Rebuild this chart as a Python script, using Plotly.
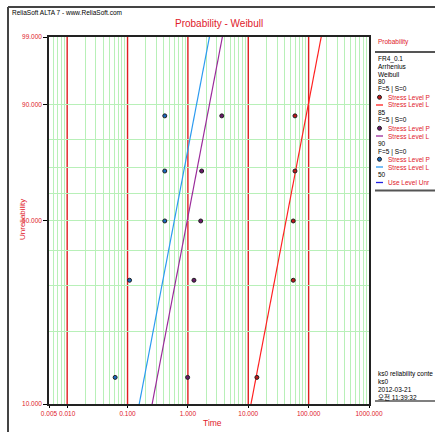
import numpy as np
import plotly.graph_objects as go

# ---------------- data ----------------
rank_pct = [12.94, 31.38, 50.0, 68.62, 87.06]          # median ranks, n=5
red_times = [13.9, 55.6, 55.6, 59.4, 59.4]              # stress level 80
purple_times = [0.99, 1.26, 1.63, 1.69, 3.64]          # stress level 85
blue_times = [0.0623, 0.108, 0.414, 0.414, 0.414]      # stress level 90

beta_common = 1.41
eta_red = 54.7
eta_purple = 1.26
eta_blue = 0.77

x_tick_vals = [0.005, 0.01, 0.1, 1, 10, 100, 1000]
x_tick_text = ["0.005", "0.010", "0.100", "1.000", "10.000", "100.000", "1000.000"]
decades = [0.01, 0.1, 1, 10, 100]
y_tick_pct = [10, 50, 90, 99]
y_tick_text = ["10.000", "50.000", "90.000", "99.000"]
y_minor_pct = [20, 30, 40, 60, 70, 80]

legend_lines = ["FR4_0.1", "Arrhenius", "Weibull"]
stress_labels = ["80", "85", "90"]
use_label = "50"
info_lines = ["ks0 reliability conte", "ks0", "2012-03-21", "오전 11:39:32"]

# ---------------- helpers ----------------
RED_TXT = "#e0202a"
C_RED = "#ff2020"
C_PUR = "#9a2a9a"
C_BLU = "#2a9af0"
C_USE = "#2020e0"
GRID_GREEN = "#b8f0b8"
DEC_RED = "#e02020"
FONT = "Liberation Sans, Noto Sans CJK KR, sans-serif"


def wtrans(p):
    p = np.asarray(p, dtype=float) / 100.0
    return np.log(-np.log(1.0 - p))


def px(x):
    return (x - 49) / 320.0


def py(y):
    return (404 - y) / 367.0


F_line = np.linspace(10, 99, 60)


def weib_t(eta, beta, pct):
    p = np.asarray(pct) / 100.0
    return eta * (-np.log(1 - p)) ** (1.0 / beta)


minor_x = []
for dec in [0.001, 0.01, 0.1, 1, 10, 100]:
    for m in range(2, 10):
        v = round(m * dec, 6)
        if 0.005 < v < 1000:
            minor_x.append(v)

fig = go.Figure()

for eta, col in [(eta_red, C_RED), (eta_purple, C_PUR), (eta_blue, C_BLU)]:
    fig.add_trace(go.Scatter(x=weib_t(eta, beta_common, F_line), y=wtrans(F_line),
                             mode="lines", line=dict(color=col, width=1.2),
                             showlegend=False, hoverinfo="skip"))

for times, col in [(red_times, "#c01818"), (purple_times, "#6a1a6a"), (blue_times, "#1a6ac0")]:
    fig.add_trace(go.Scatter(x=times, y=wtrans(rank_pct), mode="markers",
                             marker=dict(symbol="circle", size=4, color=col,
                                         line=dict(color="#202020", width=1)),
                             showlegend=False))

fig.update_xaxes(type="log", range=[np.log10(0.005), np.log10(1000)],
                 tickvals=x_tick_vals, ticktext=x_tick_text, tickangle=0,
                 tickfont=dict(family=FONT, size=6.5, color=RED_TXT),
                 ticks="outside", ticklen=2, tickcolor="#000",
                 showgrid=False, automargin=False,
                 minor=dict(tickvals=minor_x, showgrid=True, gridcolor=GRID_GREEN,
                            gridwidth=1, ticks=""),
                 showline=True, linecolor="#222", linewidth=1.5, mirror=True,
                 zeroline=False)

fig.update_yaxes(range=[float(wtrans(10)), float(wtrans(99))],
                 tickvals=list(wtrans(y_tick_pct)), ticktext=y_tick_text,
                 tickfont=dict(family=FONT, size=6.5, color=RED_TXT),
                 ticks="outside", ticklen=4, tickcolor="#000", automargin=False,
                 showgrid=True, gridcolor=GRID_GREEN, gridwidth=1.3,
                 minor=dict(tickvals=list(wtrans(y_minor_pct)), showgrid=True,
                            gridcolor=GRID_GREEN, gridwidth=1.3, ticks=""),
                 showline=True, linecolor="#222", linewidth=1.5, mirror=True,
                 zeroline=False)

ann = []
shapes = []

# decade lines in red
for d in decades:
    shapes.append(dict(type="line", xref="x", yref="paper", x0=d, x1=d, y0=0, y1=1,
                       layer="below", line=dict(color=DEC_RED, width=1.4)))

def txt(x, y, s, color="#000", size=6.5, anchor="left"):
    ann.append(dict(x=px(x), y=py(y), xref="paper", yref="paper", text=s,
                    showarrow=False, xanchor=anchor, yanchor="middle",
                    font=dict(family=FONT, size=size, color=color)))

# header / axis titles
txt(10, 13, "ReliaSoft ALTA 7 - www.ReliaSoft.com", size=6.5)
txt(219, 23, "Probability - Weibull", color=RED_TXT, size=10, anchor="center")
txt(212, 423, "Time", color=RED_TXT, size=8.5, anchor="center")
ann.append(dict(x=px(22), y=py(220), xref="paper", yref="paper", text="Unreliability",
                showarrow=False, textangle=-90, xanchor="center", yanchor="middle",
                font=dict(family=FONT, size=8, color=RED_TXT)))

# frame
shapes.append(dict(type="line", xref="paper", yref="paper", x0=px(8), x1=px(436),
                   y0=py(7), y1=py(7), line=dict(color="#444", width=2)))
shapes.append(dict(type="line", xref="paper", yref="paper", x0=px(8), x1=px(8),
                   y0=py(7), y1=py(433), line=dict(color="#444", width=2)))

# legend panel (texts truncated at the window edge, as in the original)
txt(376, 42, "Probability", color=RED_TXT, size=6.5)
shapes.append(dict(type="line", xref="paper", yref="paper", x0=px(375), x1=px(436),
                   y0=py(52), y1=py(52), line=dict(color="#555", width=2)))
step = 7.75
y0 = 58.5
row_y = [y0 + i * step for i in range(17)]
for i, s in enumerate(legend_lines):
    txt(376, row_y[i], s)
r = 3
for k, (lab, lc, mc) in enumerate(zip(stress_labels, [C_RED, C_PUR, C_BLU],
                                      ["#c01818", "#6a1a6a", "#1a6ac0"])):
    txt(376, row_y[r], lab)
    txt(376, row_y[r + 1], "F=5 | S=0")
    yy = row_y[r + 2]
    shapes.append(dict(type="circle", xref="paper", yref="paper",
                       x0=px(377.5), x1=px(381.5), y0=py(yy + 2), y1=py(yy - 2),
                       fillcolor=mc, line=dict(color="#202020", width=1)))
    txt(386, yy, "Stress Level P", color=RED_TXT)
    yl = row_y[r + 3]
    shapes.append(dict(type="line", xref="paper", yref="paper", x0=px(376), x1=px(383),
                       y0=py(yl), y1=py(yl), line=dict(color=lc, width=1.3)))
    txt(386, yl, "Stress Level L", color=RED_TXT)
    r += 4
txt(376, row_y[r], use_label)
yl = row_y[r + 1]
shapes.append(dict(type="line", xref="paper", yref="paper", x0=px(376), x1=px(383),
                   y0=py(yl), y1=py(yl), line=dict(color=C_USE, width=1.3)))
txt(386, yl, "Use Level Unr", color=RED_TXT)
shapes.append(dict(type="line", xref="paper", yref="paper", x0=px(375), x1=px(436),
                   y0=py(yl + 8), y1=py(yl + 8), line=dict(color="#555", width=2)))

# info block
for i, s in enumerate(info_lines):
    txt(376, 374 + i * 7.5, s)
shapes.append(dict(type="line", xref="paper", yref="paper", x0=px(375), x1=px(436),
                   y0=py(401), y1=py(401), line=dict(color="#555", width=1.5)))

fig.update_layout(width=435, height=432, margin=dict(l=49, r=66, t=37, b=28),
                  paper_bgcolor="white", plot_bgcolor="white",
                  annotations=ann, shapes=shapes, showlegend=False,
                  font=dict(family=FONT))

fig.write_html("out.html")
